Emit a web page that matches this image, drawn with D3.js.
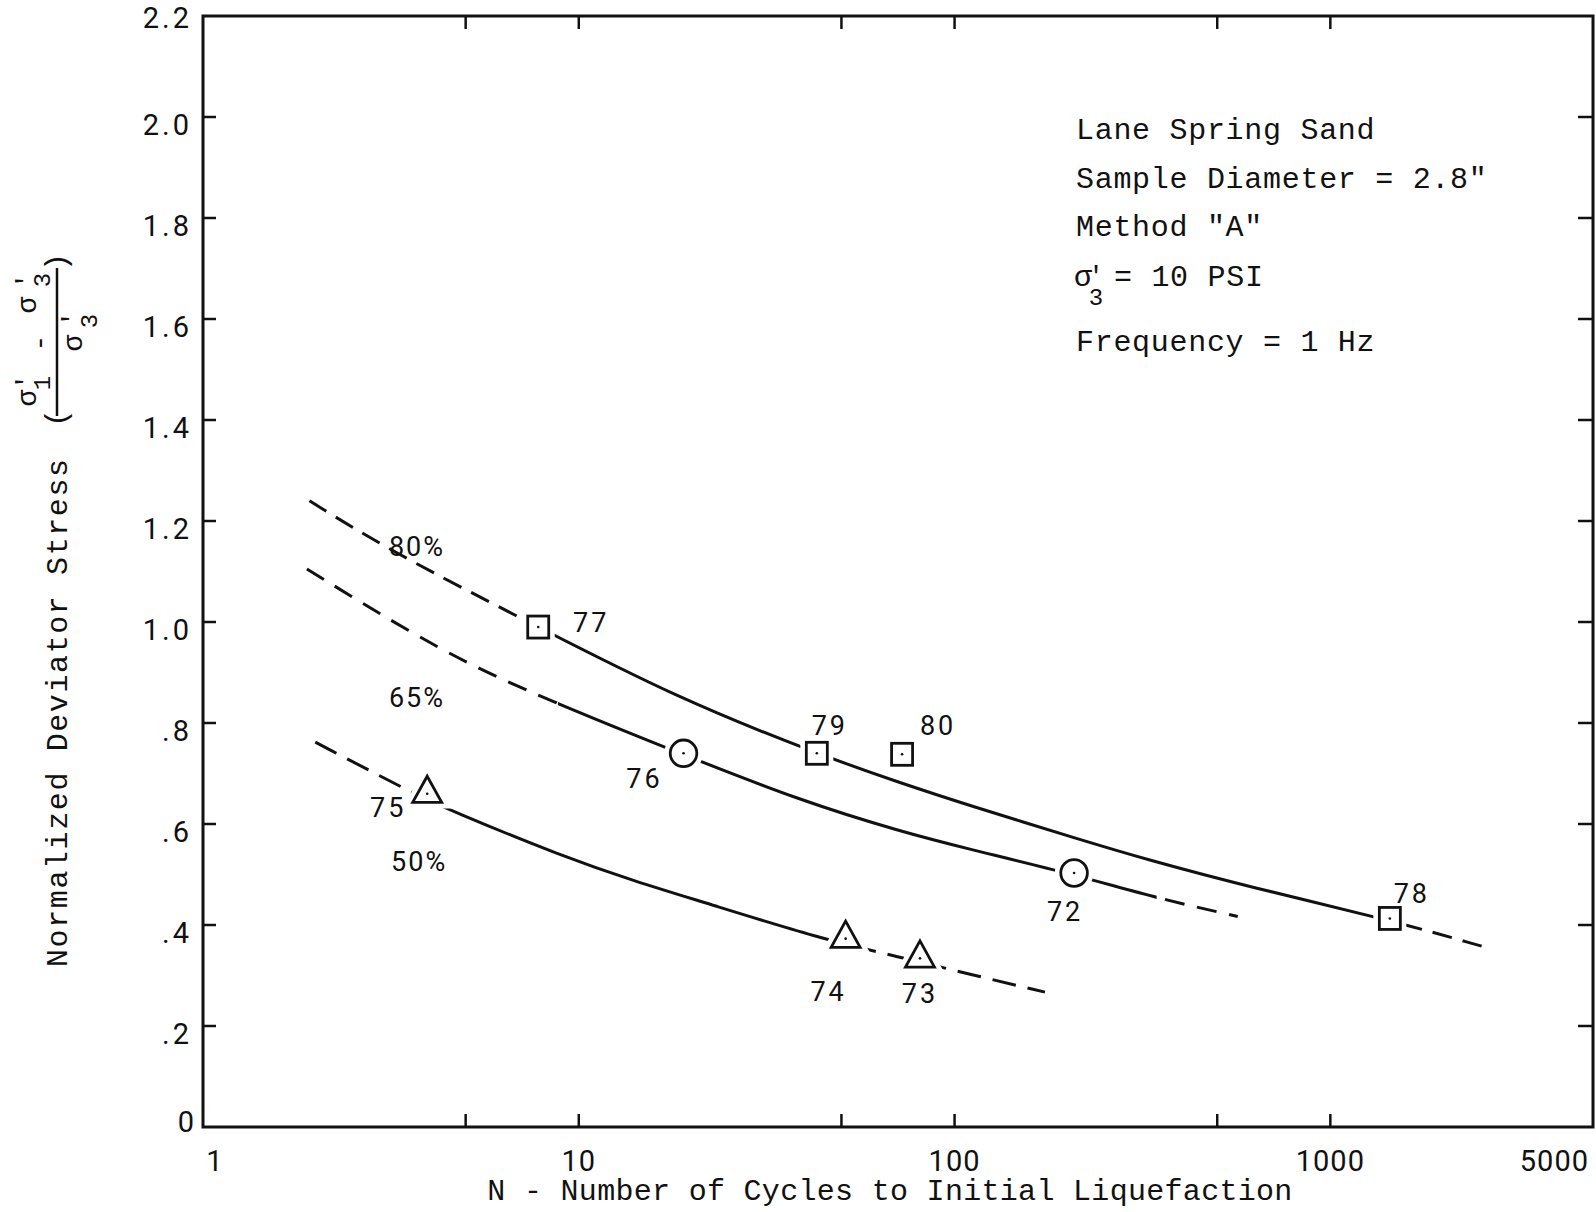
<!DOCTYPE html>
<html>
<head>
<meta charset="utf-8">
<script src="https://cdn.jsdelivr.net/npm/d3@7"></script>
<style>
body{margin:0;background:#fff;}
svg text{fill:#111;}
.mono{font-family:"Liberation Mono","Courier New",monospace;}
.num{font-family:Roboto,"Noto Sans",sans-serif;}
</style>
</head>
<body>
<svg id="chart" width="1596" height="1212"></svg>
<script>
// axis ticks
var xTicks = [1, 10, 100, 1000, 5000];
var xTickLabels = ["1", "10", "100", "1000", "5000"];
var xMarks = [5, 10, 50, 100, 500, 1000];
var yTicks = [0, 0.2, 0.4, 0.6, 0.8, 1.0, 1.2, 1.4, 1.6, 1.8, 2.0, 2.2];
var yTickLabels = ["0", ".2", ".4", ".6", ".8", "1.0", "1.2", "1.4", "1.6", "1.8", "2.0", "2.2"];

// curves, [N, stress ratio]
var curve80 = [[1.92,1.24],[3.16,1.14],[7.8,0.99],[18,0.852],[43,0.739],[72,0.681],[107,0.639],[218,0.568],[323,0.53],[611,0.475],[1440,0.41],[2530,0.358]];
var curve65 = [[1.89,1.105],[4.39,0.937],[8.3,0.845],[19,0.737],[39,0.646],[72,0.585],[107,0.552],[208,0.5],[350,0.452],[567,0.417]];
var curve50 = [[1.99,0.762],[3.66,0.659],[4.52,0.628],[9.1,0.535],[14.2,0.486],[21.3,0.446],[44,0.373],[70,0.338],[112,0.301],[174,0.267]];

// solid part of each curve (N from, N to); dashed outside
var solid80 = [7.8, 1440];
var solid65 = [8.8, 345];
var solid50 = [3.95, 47];

// test points [N, stress ratio, test no]
var squares = [[7.8,0.99,"77"],[43,0.74,"79"],[72.5,0.738,"80"],[1440,0.413,"78"]];
var circles = [[19,0.74,"76"],[208,0.503,"72"]];
var triangles = [[3.95,0.66,"75"],[51.3,0.373,"74"],[80.9,0.334,"73"]];

// curve names and where they sit [N, stress ratio]
var curveNames = ["80%", "65%", "50%"];
var curveNameAt = [[3.71,1.15],[3.71,0.852],[3.76,0.527]];

var notes = ["Lane Spring Sand", "Sample Diameter = 2.8\"", "Method \"A\"", "", "Frequency = 1 Hz"];

var svg = d3.select("#chart");
var pL = 203, pR = 1593, pT = 16, pB = 1127;

var x = d3.scaleLog().domain([1, 5000]).range([pL, pR]);
var y = d3.scaleLinear().domain([0, 2.2]).range([pB, pT]);

// frame
svg.append("rect")
	.attr("x", pL).attr("y", pT)
	.attr("width", pR - pL).attr("height", pB - pT)
	.attr("fill", "none").attr("stroke", "#111").attr("stroke-width", 3);

// ticks, all pointing inward
var tk = 13;
svg.selectAll(".xb").data(xMarks).enter().append("line")
	.attr("x1", function(d){ return x(d); }).attr("x2", function(d){ return x(d); })
	.attr("y1", pB).attr("y2", pB - tk)
	.attr("stroke", "#111").attr("stroke-width", 2.5);
svg.selectAll(".xt").data(xMarks).enter().append("line")
	.attr("x1", function(d){ return x(d); }).attr("x2", function(d){ return x(d); })
	.attr("y1", pT).attr("y2", pT + tk)
	.attr("stroke", "#111").attr("stroke-width", 2.5);
var inner = yTicks.slice(1, -1);
svg.selectAll(".yl").data(inner).enter().append("line")
	.attr("x1", pL).attr("x2", pL + tk)
	.attr("y1", function(d){ return y(d); }).attr("y2", function(d){ return y(d); })
	.attr("stroke", "#111").attr("stroke-width", 2.5);
svg.selectAll(".yr").data(inner).enter().append("line")
	.attr("x1", pR).attr("x2", pR - 15)
	.attr("y1", function(d){ return y(d); }).attr("y2", function(d){ return y(d); })
	.attr("stroke", "#111").attr("stroke-width", 2.5);

// tick labels
svg.selectAll(".xlab").data(xTicks).enter().append("text")
	.attr("class", "num")
	.attr("x", function(d, i){ return i === xTicks.length - 1 ? x(d) - 4 : x(d) + (i === 0 ? 12 : 0); })
	.attr("y", 1171)
	.attr("text-anchor", function(d, i){ return i === xTicks.length - 1 ? "end" : "middle"; })
	.attr("font-size", 29)
	.attr("letter-spacing", 1)
	.text(function(d, i){ return xTickLabels[i]; });

svg.selectAll(".ylab").data(yTicks).enter().append("text")
	.attr("class", "num")
	.attr("x", function(d, i){ return i === 0 ? 197 : 192; })
	.attr("y", function(d, i){
		if (i === 0) return y(d) + 5;
		if (i === yTicks.length - 1) return y(d) + 12;
		return y(d) + 18;
	})
	.attr("text-anchor", "end")
	.attr("font-size", 29)
	.attr("letter-spacing", 3)
	.text(function(d, i){ return yTickLabels[i]; });

// axis titles
svg.append("text")
	.attr("class", "mono")
	.attr("x", 890).attr("y", 1200)
	.attr("text-anchor", "middle")
	.attr("font-size", 30)
	.attr("letter-spacing", 0.3)
	.text("N - Number of Cycles to Initial Liquefaction");

var yt = svg.append("g").attr("class", "mono").attr("transform", "rotate(-90)");
yt.append("text").attr("x", -967).attr("y", 67).attr("font-size", 30).attr("letter-spacing", 1.6)
	.text("Normalized Deviator Stress");
yt.append("text").attr("x", -418).attr("y", 66).attr("font-size", 30).attr("text-anchor", "middle").text("(");
yt.append("text").attr("x", -262).attr("y", 66).attr("font-size", 30).attr("text-anchor", "middle").text(")");
yt.append("line").attr("x1", -416).attr("x2", -268).attr("y1", 57).attr("y2", 57)
	.attr("stroke", "#111").attr("stroke-width", 2.5);
// numerator and denominator pieces [u, v, text, size]
var fracBits = [
	[-398, 36, "\u03c3", 28], [-382, 34, "'", 26], [-383, 50, "1", 24],
	[-343, 48, "-", 28],
	[-305, 36, "\u03c3", 28], [-281, 34, "'", 26], [-280, 50, "3", 24],
	[-343, 82, "\u03c3", 28], [-319, 80, "'", 26], [-321, 97, "3", 24]
];
yt.selectAll(".fb").data(fracBits).enter().append("text")
	.attr("x", function(d){ return d[0]; })
	.attr("y", function(d){ return d[1]; })
	.attr("text-anchor", "middle")
	.attr("font-size", function(d){ return d[3]; })
	.text(function(d){ return d[2]; });

// notes in upper right
var nb = [139, 188, 236, 286, 351];
svg.selectAll(".note").data(notes).enter().append("text")
	.attr("class", "mono")
	.attr("x", 1076)
	.attr("y", function(d, i){ return nb[i]; })
	.attr("font-size", 30)
	.attr("letter-spacing", 0.7)
	.text(function(d){ return d; });
var sl = svg.append("g").attr("class", "mono");
sl.append("text").attr("x", 1074).attr("y", nb[3]).attr("font-size", 30).text("\u03c3");
sl.append("text").attr("x", 1096).attr("y", nb[3] - 2).attr("font-size", 26).attr("text-anchor", "middle").text("'");
sl.append("text").attr("x", 1096).attr("y", nb[3] + 19).attr("font-size", 24).attr("text-anchor", "middle").text("3");
sl.append("text").attr("x", 1114).attr("y", nb[3]).attr("font-size", 30).attr("letter-spacing", 0.7).text("= 10 PSI");

// curves: one smooth path per curve, clipped into dashed / solid pieces
var line = d3.line()
	.x(function(d){ return x(d[0]); })
	.y(function(d){ return y(d[1]); })
	.curve(d3.curveBasis);

var defs = svg.append("defs");
function drawCurve(data, solid, id, dash){
	var cuts = [[pL, x(solid[0]), dash], [x(solid[0]), x(solid[1]), null], [x(solid[1]), pR, dash]];
	cuts.forEach(function(c, i){
		defs.append("clipPath").attr("id", id + i)
			.append("rect").attr("x", c[0]).attr("y", pT).attr("width", c[1] - c[0]).attr("height", pB - pT);
		svg.append("path")
			.datum(data)
			.attr("d", line)
			.attr("clip-path", "url(#" + id + i + ")")
			.attr("fill", "none")
			.attr("stroke", "#111")
			.attr("stroke-width", 3)
			.attr("stroke-dasharray", c[2]);
	});
}
drawCurve(curve80, solid80, "c80", "20,11");
drawCurve(curve65, solid65, "c65", "20,13");
drawCurve(curve50, solid50, "c50", "24,12");

// markers, with a white halo so the curves stop short of them
var triPath = "M0,-17.5L14.5,8.7L-14.5,8.7Z";
function marker(sel, kind){
	var g = sel.append("g").attr("transform", function(d){ return "translate(" + x(d[0]) + "," + y(d[1]) + ")"; });
	[12, 2.8].forEach(function(sw, k){
		var m;
		if (kind === "sq") m = g.append("rect").attr("x", -10.5).attr("y", -11).attr("width", 21).attr("height", 22);
		else if (kind === "ci") m = g.append("circle").attr("r", 13.3);
		else m = g.append("path").attr("d", triPath);
		m.attr("fill", "#fff").attr("stroke", k === 0 ? "#fff" : "#111").attr("stroke-width", sw)
			.attr("stroke-linejoin", "miter");
	});
	g.append("circle").attr("r", 1.3).attr("fill", "#111");
}
marker(svg.selectAll(".sq").data(squares).enter(), "sq");
marker(svg.selectAll(".ci").data(circles).enter(), "ci");
marker(svg.selectAll(".tr").data(triangles).enter(), "tr");

// test number labels, offset from their marker
var labelOffset = {"77":[53,-5], "79":[13,-28], "80":[36,-29], "78":[22,-25], "76":[-39,25], "72":[-9,38], "75":[-39,13], "74":[-17,52], "73":[0,35]};
var allPts = squares.concat(circles, triangles);
svg.selectAll(".plab").data(allPts).enter().append("text")
	.attr("class", "num")
	.attr("x", function(d){ return x(d[0]) + labelOffset[d[2]][0]; })
	.attr("y", function(d){ return y(d[1]) + labelOffset[d[2]][1] + 10; })
	.attr("text-anchor", "middle")
	.attr("font-size", 27)
	.attr("letter-spacing", 3)
	.text(function(d){ return d[2]; });

svg.selectAll(".cname").data(curveNames).enter().append("text")
	.attr("class", "num")
	.attr("x", function(d, i){ return x(curveNameAt[i][0]); })
	.attr("y", function(d, i){ return y(curveNameAt[i][1]) + 10; })
	.attr("text-anchor", "middle")
	.attr("font-size", 27)
	.attr("letter-spacing", 2)
	.text(function(d){ return d; });
</script>
</body>
</html>
